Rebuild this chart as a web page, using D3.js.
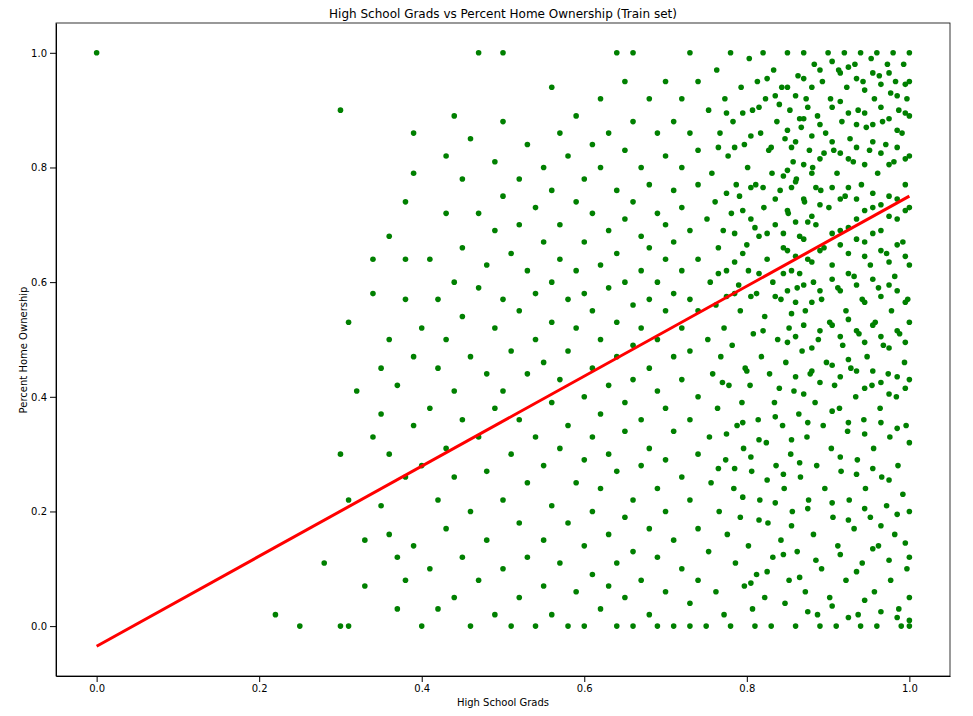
<!DOCTYPE html>
<html><head><meta charset="utf-8">
<script src="https://cdn.jsdelivr.net/npm/d3@7"></script>
<style>body{margin:0;background:#fff}text{font-family:"DejaVu Sans",sans-serif}</style>
</head><body><svg id="c" width="973" height="716"></svg>
<script>
// x = High School Grads, y = Percent Home Ownership
const sparsePoints = [
[0,1],[0.22,0.02],[0.25,0],[0.28,0.11],[0.3,0],[0.3,0.3],[0.3,0.9],[0.31,0.53],[0.31,0.22],[0.31,0],[0.32,0.41],[0.33,0.15],[0.33,0.07],[0.34,0.64],[0.34,0.33],[0.34,0.58],
[0.35,0.45],[0.35,0.21],[0.35,0.37],[0.36,0.5],[0.36,0.3],[0.36,0.16],[0.36,0.68],[0.37,0.42],[0.37,0.12],[0.37,0.03],[0.38,0.74],[0.38,0.64],[0.38,0.57],[0.38,0.26],[0.38,0.08],[0.39,0.86],
[0.39,0.79],[0.39,0.47],[0.39,0.35],[0.39,0.14],[0.4,0.0],[0.4,0.28],[0.4,0.52],[0.41,0.64],[0.41,0.38],[0.41,0.1],[0.42,0.57],[0.42,0.45],[0.42,0.22],[0.42,0.03],[0.43,0.82],[0.43,0.72],
[0.43,0.5],[0.43,0.31],[0.43,0.17],[0.44,0.89],[0.44,0.6],[0.44,0.41],[0.44,0.26],[0.44,0.05],[0.45,0.78],[0.45,0.66],[0.45,0.54],[0.45,0.36],[0.45,0.12],[0.46,0.85],[0.46,0.47],[0.46,0.2],
[0.46,0.0],[0.47,1],[0.47,0.72],[0.47,0.59],[0.47,0.33],[0.47,0.08],[0.48,0.63],[0.48,0.44],[0.48,0.27],[0.48,0.15],[0.49,0.81],[0.49,0.69],[0.49,0.52],[0.49,0.38],[0.49,0.02],[0.5,1],
[0.5,0.88],[0.5,0.75],[0.5,0.57],[0.5,0.41],[0.5,0.22],[0.5,0.1],[0.51,0.65],[0.51,0.48],[0.51,0.3],[0.51,0.0],[0.52,0.78],[0.52,0.7],[0.52,0.55],[0.52,0.36],[0.52,0.18],[0.52,0.05],
[0.53,0.84],[0.53,0.62],[0.53,0.44],[0.53,0.25],[0.53,0.12],[0.54,0.73],[0.54,0.58],[0.54,0.5],[0.54,0.33],[0.54,0.0],[0.55,0.8],[0.55,0.67],[0.55,0.46],[0.55,0.28],[0.55,0.15],[0.55,0.07],
[0.56,0.94],[0.56,0.76],[0.56,0.6],[0.56,0.53],[0.56,0.39],[0.56,0.21],[0.56,0.02],[0.57,0.86],[0.57,0.7],[0.57,0.64],[0.57,0.43],[0.57,0.31],[0.57,0.11],[0.58,0.82],[0.58,0.57],[0.58,0.48],
[0.58,0.35],[0.58,0.18],[0.58,0.0],[0.59,0.89],[0.59,0.74],[0.59,0.62],[0.59,0.52],[0.59,0.25],[0.59,0.06],[0.6,0.78],[0.6,0.67],[0.6,0.58],[0.6,0.4],[0.6,0.29],[0.6,0.14],[0.6,0.0],
[0.61,0.84],[0.61,0.72],[0.61,0.55],[0.61,0.45],[0.61,0.33],[0.61,0.2],[0.61,0.09],[0.62,0.92],[0.62,0.8],[0.62,0.63],[0.62,0.5],[0.62,0.37],[0.62,0.24],[0.62,0.03],[0.63,0.86],[0.63,0.69],
[0.63,0.59],[0.63,0.42],[0.63,0.3],[0.63,0.16],[0.63,0.07],[0.64,1],[0.64,0.76],[0.64,0.65],[0.64,0.53],[0.64,0.47],[0.64,0.27],[0.64,0.11],[0.64,0.0],[0.65,0.95],[0.65,0.83],[0.65,0.71],
[0.65,0.6],[0.65,0.39],[0.65,0.34],[0.65,0.19],[0.65,0.05],[0.66,1],[0.66,0.88],[0.66,0.74],[0.66,0.56],[0.66,0.49],[0.66,0.43],[0.66,0.22],[0.66,0.13],[0.66,0.0],[0.67,0.8],[0.67,0.68],
[0.67,0.62],[0.67,0.52],[0.67,0.36],[0.67,0.28],[0.67,0.08],[0.68,0.92],[0.68,0.77],[0.68,0.66],[0.68,0.57],[0.68,0.45],[0.68,0.31],[0.68,0.17],[0.68,0.02],[0.69,0.86],[0.69,0.72],[0.69,0.6],
[0.69,0.5],[0.69,0.41],[0.69,0.24],[0.69,0.12],[0.69,0.0],[0.7,0.95],[0.7,0.82],[0.7,0.7],[0.7,0.64],[0.7,0.55],[0.7,0.38],[0.7,0.29],[0.7,0.2],[0.7,0.06],[0.71,0.88],[0.71,0.76],
[0.71,0.67],[0.71,0.58],[0.71,0.47],[0.71,0.34],[0.71,0.15],[0.71,0.0],[0.72,0.92],[0.72,0.8],[0.72,0.73],[0.72,0.62],[0.72,0.52],[0.72,0.43],[0.72,0.26],[0.72,0.1],[0.73,1],[0.73,0.86],
[0.73,0.69],[0.73,0.57],[0.73,0.48],[0.73,0.36],[0.73,0.22],[0.73,0.04],[0.73,0.0],[0.74,0.95],[0.74,0.83],[0.74,0.77],[0.74,0.64],[0.74,0.55],[0.74,0.4],[0.74,0.3],[0.74,0.17],[0.74,0.08]
];
// the crowded region right of 0.75, hand-read in irregular positions
const densePoints = [
[0.753,0.9],[0.757,0.79],[0.751,0.71],[0.755,0.6],[0.752,0.5],[0.758,0.44],[0.754,0.33],[0.756,0.25],[0.753,0.13],[0.75,0.0],[0.763,0.97],[0.767,0.86],[0.761,0.74],[0.765,0.66],[0.762,0.56],[0.768,0.47],
[0.764,0.38],[0.766,0.2],[0.762,0.06],[0.773,0.92],[0.777,0.82],[0.771,0.69],[0.775,0.62],[0.772,0.52],[0.778,0.42],[0.774,0.29],[0.776,0.16],[0.772,0.02],[0.78,1],[0.783,0.88],[0.787,0.77],[0.781,0.72],
[0.785,0.58],[0.782,0.49],[0.788,0.35],[0.784,0.24],[0.786,0.11],[0.78,0.0],[0.793,0.94],[0.797,0.84],[0.791,0.75],[0.795,0.65],[0.792,0.55],[0.798,0.45],[0.794,0.39],[0.796,0.31],[0.792,0.19],[0.797,0.07],
[0.803,0.99],[0.807,0.9],[0.801,0.8],[0.805,0.71],[0.802,0.62],[0.808,0.51],[0.804,0.42],[0.806,0.27],[0.802,0.14],[0.807,0.03],[0.813,0.95],[0.817,0.86],[0.811,0.77],[0.815,0.68],[0.812,0.58],[0.818,0.47],
[0.814,0.36],[0.816,0.22],[0.812,0.09],[0.81,0.0],[0.82,1],[0.823,0.92],[0.827,0.83],[0.821,0.73],[0.825,0.64],[0.822,0.54],[0.828,0.44],[0.824,0.32],[0.826,0.18],[0.822,0.05],[0.833,0.97],[0.837,0.88],
[0.831,0.79],[0.835,0.7],[0.832,0.6],[0.838,0.5],[0.834,0.39],[0.836,0.28],[0.832,0.12],[0.83,0.0],[0.843,0.94],[0.847,0.85],[0.841,0.76],[0.845,0.66],[0.842,0.57],[0.848,0.46],[0.844,0.35],[0.846,0.24],
[0.842,0.15],[0.847,0.04],[0.85,1],[0.853,0.9],[0.857,0.81],[0.851,0.72],[0.855,0.62],[0.852,0.52],[0.858,0.41],[0.854,0.3],[0.856,0.2],[0.852,0.08],[0.863,0.96],[0.867,0.87],[0.861,0.78],[0.865,0.68],
[0.862,0.59],[0.868,0.48],[0.864,0.37],[0.866,0.26],[0.862,0.13],[0.86,0.0],[0.87,1],[0.873,0.92],[0.877,0.83],[0.871,0.74],[0.875,0.64],[0.872,0.55],[0.878,0.44],[0.874,0.33],[0.876,0.22],[0.872,0.06],
[0.883,0.98],[0.887,0.89],[0.881,0.8],[0.885,0.7],[0.882,0.6],[0.888,0.5],[0.884,0.39],[0.886,0.28],[0.882,0.16],[0.887,0.02],[0.893,0.95],[0.897,0.86],[0.891,0.76],[0.895,0.66],[0.892,0.57],[0.898,0.46],
[0.894,0.35],[0.896,0.24],[0.892,0.1],[0.89,0.0],[0.9,1],[0.903,0.92],[0.907,0.83],[0.901,0.73],[0.905,0.63],[0.902,0.53],[0.908,0.42],[0.904,0.31],[0.906,0.19],[0.902,0.05],[0.913,0.97],[0.917,0.88],
[0.911,0.79],[0.915,0.69],[0.912,0.59],[0.918,0.49],[0.914,0.38],[0.916,0.27],[0.912,0.14],[0.91,0.0],[0.92,1],[0.923,0.94],[0.927,0.85],[0.921,0.75],[0.925,0.65],[0.922,0.55],[0.928,0.45],[0.924,0.34],
[0.926,0.22],[0.922,0.08],[0.933,0.98],[0.937,0.9],[0.931,0.81],[0.935,0.71],[0.932,0.61],[0.938,0.51],[0.934,0.4],[0.936,0.29],[0.932,0.17],[0.937,0.02],[0.94,1],[0.943,0.95],[0.947,0.87],[0.941,0.77],
[0.945,0.67],[0.942,0.57],[0.948,0.47],[0.944,0.36],[0.946,0.24],[0.942,0.11],[0.94,0.0],[0.953,0.99],[0.957,0.92],[0.951,0.83],[0.955,0.73],[0.952,0.63],[0.958,0.53],[0.954,0.42],[0.956,0.31],[0.952,0.19],
[0.957,0.06],[0.96,1],[0.963,0.96],[0.967,0.88],[0.961,0.79],[0.965,0.69],[0.962,0.59],[0.968,0.49],[0.964,0.38],[0.966,0.26],[0.962,0.14],[0.96,0.0],[0.973,0.98],[0.977,0.93],[0.971,0.84],[0.975,0.75],
[0.972,0.65],[0.978,0.55],[0.974,0.44],[0.976,0.33],[0.972,0.21],[0.977,0.08],[0.98,1],[0.983,0.95],[0.987,0.9],[0.981,0.81],[0.985,0.71],[0.982,0.61],[0.988,0.51],[0.984,0.4],[0.986,0.28],[0.982,0.16],
[0.987,0.03],[0.993,0.98],[0.997,0.92],[0.991,0.86],[0.995,0.77],[0.992,0.67],[0.998,0.57],[0.994,0.46],[0.996,0.35],[0.992,0.23],[0.997,0.1],[0.99,0.0],[1,1],[1,0.95],[1,0.89],[1,0.82],
[1,0.73],[1,0.63],[1,0.53],[1,0.43],[1,0.32],[1,0.2],[1,0.12],[1,0.05],[1,0.01],[1,0.0],
[0.905,0.985],[0.915,0.965],[0.925,0.975],[0.935,0.955],[0.945,0.935],[0.955,0.965],[0.965,0.945],[0.975,0.965],[0.985,0.925],[0.995,0.945],[0.89,0.97],[0.88,0.94],[0.87,0.955],[0.86,0.925],[0.85,0.94],[0.84,0.91],
[0.905,0.905],[0.915,0.915],[0.925,0.895],[0.935,0.875],[0.945,0.895],[0.955,0.875],[0.965,0.905],[0.975,0.885],[0.985,0.865],[0.995,0.895],[0.89,0.875],[0.88,0.855],[0.87,0.885],[0.86,0.845],[0.85,0.865],[0.83,0.835],
[0.905,0.845],[0.915,0.825],[0.925,0.815],[0.935,0.835],[0.945,0.805],[0.955,0.845],[0.965,0.825],[0.975,0.805],[0.985,0.835],[0.995,0.815],[0.89,0.815],[0.88,0.79],[0.87,0.805],[0.86,0.775],[0.85,0.795],[0.82,0.765],
[0.905,0.765],[0.915,0.745],[0.925,0.765],[0.935,0.745],[0.945,0.725],[0.955,0.755],[0.965,0.735],[0.975,0.715],[0.985,0.745],[0.995,0.725],[0.89,0.735],[0.88,0.715],[0.87,0.745],[0.86,0.705],[0.85,0.725],[0.81,0.695],
[0.905,0.685],[0.915,0.665],[0.925,0.695],[0.935,0.675],[0.945,0.645],[0.955,0.685],[0.965,0.655],[0.975,0.635],[0.985,0.665],[0.995,0.645],[0.89,0.655],[0.88,0.635],[0.87,0.675],[0.86,0.645],[0.85,0.655],[0.8,0.665],
[0.905,0.605],[0.915,0.585],[0.925,0.615],[0.935,0.595],[0.945,0.565],[0.955,0.605],[0.965,0.575],[0.975,0.595],[0.985,0.585],[0.995,0.565],[0.89,0.585],[0.88,0.565],[0.87,0.595],[0.86,0.565],[0.85,0.585],[0.79,0.595],
[0.905,0.525],[0.915,0.505],[0.925,0.535],[0.935,0.515],[0.945,0.495],[0.955,0.525],[0.965,0.505],[0.975,0.485],[0.985,0.515],[0.995,0.495],[0.89,0.515],[0.88,0.485],[0.87,0.525],[0.86,0.505],[0.85,0.495],[0.82,0.515],
[0.905,0.455],[0.915,0.435],[0.925,0.465],[0.935,0.445],[0.945,0.415],[0.955,0.445],[0.965,0.425],[0.975,0.405],[0.985,0.435],[0.995,0.415],[0.89,0.425],[0.88,0.445],[0.87,0.405],[0.86,0.435],[0.84,0.415],[0.8,0.445],
[0.905,0.375],[0.925,0.355],[0.945,0.335],[0.965,0.355],[0.985,0.345],[0.875,0.355],[0.855,0.325],[0.835,0.365],[0.815,0.325],[0.795,0.355],[0.775,0.335],[0.915,0.295],[0.935,0.265],[0.955,0.275],[0.975,0.255],[0.865,0.285],
[0.845,0.265],[0.825,0.255],[0.805,0.295],[0.785,0.275],[0.905,0.215],[0.925,0.185],[0.945,0.205],[0.965,0.175],[0.985,0.195],[0.875,0.205],[0.855,0.175],[0.835,0.215],[0.815,0.185],[0.795,0.225],[0.765,0.275],[0.77,0.425],
[0.915,0.125],[0.935,0.095],[0.955,0.135],[0.975,0.115],[0.995,0.145],[0.885,0.115],[0.865,0.085],[0.845,0.125],[0.825,0.095],[0.805,0.075],[0.905,0.035],[0.925,0.015],[0.945,0.045],[0.965,0.025],[0.985,0.015],[0.875,0.025],
[0.765,0.835],[0.775,0.895],[0.785,0.835],[0.795,0.895],[0.805,0.855],[0.815,0.905],[0.825,0.955],[0.835,0.925],[0.775,0.755],[0.785,0.685],[0.795,0.725],[0.805,0.765],[0.765,0.615],[0.775,0.575],[0.785,0.635],[0.805,0.575],
[0.815,0.615],[0.825,0.685],[0.835,0.575],[0.845,0.615],[0.855,0.545],[0.865,0.615],[0.875,0.705],[0.885,0.765],[0.895,0.825],[0.845,0.685],[0.835,0.745],[0.845,0.785],[0.855,0.835],[0.865,0.885],[0.875,0.905],[0.855,0.765]
];
const fitX = [0, 1];
const fitY = [-0.035, 0.75];
const xTicks = [0, 0.2, 0.4, 0.6, 0.8, 1.0];
const yTicks = [0, 0.2, 0.4, 0.6, 0.8, 1.0];

const svg = d3.select("#c");
const x = d3.scaleLinear().domain([-0.05, 1.05]).range([56, 950]);
const y = d3.scaleLinear().domain([-0.087, 1.052]).range([676, 23]);

svg.append("g").selectAll("circle").data(sparsePoints.concat(densePoints)).join("circle")
  .attr("cx", d => x(d[0])).attr("cy", d => y(d[1])).attr("r", 2.8).attr("fill", "green");

svg.append("line").attr("x1", x(fitX[0])).attr("y1", y(fitY[0]))
  .attr("x2", x(fitX[1])).attr("y2", y(fitY[1])).attr("stroke", "red").attr("stroke-width", 3);

const fmt = d3.format(".1f");
svg.append("g").attr("transform", "translate(0,676)")
  .call(d3.axisBottom(x).tickValues(xTicks).tickFormat(fmt).tickSizeOuter(0))
  .call(g => g.selectAll("text").attr("font-size", 10).attr("fill", "#000"));
svg.append("g").attr("transform", "translate(56,0)")
  .call(d3.axisLeft(y).tickValues(yTicks).tickFormat(fmt).tickSizeOuter(0))
  .call(g => g.selectAll("text").attr("font-size", 10).attr("fill", "#000"));
svg.append("rect").attr("x", 56).attr("y", 23).attr("width", 894).attr("height", 653)
  .attr("fill", "none").attr("stroke", "#000").attr("stroke-width", 0.8);

svg.append("text").attr("x", 503).attr("y", 18).attr("text-anchor", "middle").attr("font-size", 12)
  .text("High School Grads vs Percent Home Ownership (Train set)");
svg.append("text").attr("x", 503).attr("y", 706).attr("text-anchor", "middle").attr("font-size", 10)
  .text("High School Grads");
svg.append("text").attr("transform", "translate(27,350) rotate(-90)").attr("text-anchor", "middle").attr("font-size", 10)
  .text("Percent Home Ownership");
</script></body></html>
